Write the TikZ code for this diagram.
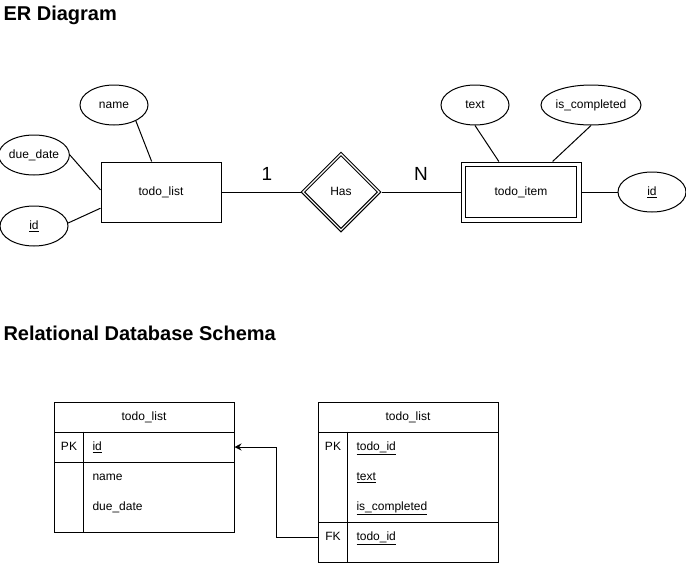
\documentclass[tikz,border=0pt]{standalone}
\usepackage{fontspec}
\setmainfont{Liberation Sans}
\usetikzlibrary{shapes.geometric,arrows.meta,calc}
\begin{document}
\begin{tikzpicture}[x=1pt,y=-1pt,line width=1pt,
  every node/.style={font=\fontsize{12}{14}\selectfont,inner sep=0pt,text height=9.2pt,text depth=2.2pt},
  attr/.style={ellipse,draw,minimum width=68pt,minimum height=40pt},
  entity/.style={rectangle,draw,minimum width=120pt,minimum height=60pt},
  tcell/.style={rectangle,draw,minimum width=180pt},
  titletext/.style={font=\fontsize{20}{24}\selectfont\bfseries,anchor=base west},
  cardtext/.style={font=\fontsize{19}{22}\selectfont,text height=14pt,text depth=0pt}]
\useasboundingbox (0,0) rectangle (686,563);

% titles
\node[titletext] (t1title) at (3,20) {ER Diagram};
\node[titletext] (t2title) at (3,340) {Relational Database Schema};

% ER diagram
\node[attr] (nameE) at (114,105) {name};
\node[attr] (ddE) at (34,155) {due\_date};
\node[attr] (idL) at (34,226) {\underline{id}};
\node[entity] (tl) at (161,192) {todo\_list};

\node[diamond,draw,aspect=1,minimum width=80pt,minimum height=80pt] (has) at (341,192) {};
\node[diamond,draw,aspect=1,minimum width=73pt,minimum height=73pt] (hasIn) at (341,192) {Has};

\node[entity] (ti) at (521,192) {todo\_item};
\draw ($(ti.north west)+(5,5)$) rectangle ($(ti.south east)+(-5,-5)$);
\node[attr] (textE) at (475,105) {text};
\node[attr,minimum width=100pt] (icE) at (591,105) {is\_completed};
\node[attr] (idR) at (652,192) {\underline{id}};

\draw (nameE.-36) -- (tl.107);
\draw (ddE.east) -- (tl.178);
\draw (idL.5) -- (tl.195);
\draw (tl.east) -- (has.west);
\draw (has.east) -- (ti.west);
\draw (textE.south) -- (ti.126);
\draw (icE.south) -- (ti.44);
\draw (ti.east) -- (idR.west);

\node[cardtext] (one) at (267,173) {1};
\node[cardtext] (nN) at (421,173) {N};

% table 1
\node[tcell,minimum height=30pt] (t1h) at (144,417) {todo\_list};
\node[tcell,minimum height=30pt] (t1pk) at (144,447) {};
\node[tcell,minimum height=70pt] (t1b) at (144,497) {};
\draw ($(t1pk.north west)+(30,0)$) -- ($(t1b.south west)+(30,0)$);
\node (t1pkL) at (69,447) {PK};
\node[anchor=west] (t1id) at (92,447) {\underline{id}};
\node[anchor=west] (t1name) at (92,477) {name};
\node[anchor=west] (t1due) at (92,507) {due\_date};

% table 2
\node[tcell,minimum height=30pt] (t2h) at (408,417) {todo\_list};
\node[tcell,minimum height=90pt] (t2pk) at (408,477) {};
\node[tcell,minimum height=40pt] (t2fk) at (408,542) {};
\draw ($(t2pk.north west)+(30,0)$) -- ($(t2fk.south west)+(30,0)$);
\node (t2pkL) at (333,447) {PK};
\node (t2fkL) at (333,537) {FK};
\node[anchor=west] (t2id) at (356,447) {\underline{todo\_id}};
\node[anchor=west] (t2text) at (356,477) {\underline{text}};
\node[anchor=west] (t2ic) at (356,507) {\underline{is\_completed}};
\node[anchor=west] (t2fkid) at (356,537) {\underline{todo\_id}};

% foreign key arrow
\coordinate (bend) at (276,537);
\draw[-{Stealth[length=7pt,width=7pt]}] (t2fk.west |- t2fkid) -- (bend) |- (t1pk.east);
\end{tikzpicture}
\end{document}
